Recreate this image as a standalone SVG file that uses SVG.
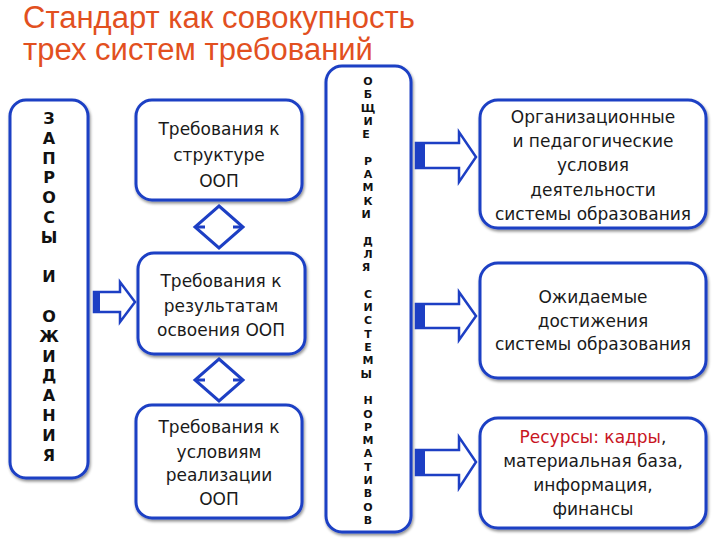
<svg xmlns="http://www.w3.org/2000/svg" width="720" height="540" viewBox="0 0 720 540">
<defs>
<filter id="sh" x="-10%" y="-10%" width="120%" height="120%"><feGaussianBlur in="SourceAlpha" stdDeviation="1.5"/><feOffset dx="1" dy="1.5"/><feComponentTransfer><feFuncA type="linear" slope="0.45"/></feComponentTransfer><feMerge><feMergeNode/><feMergeNode in="SourceGraphic"/></feMerge></filter>
</defs>
<style>
.box{fill:#fff;stroke:#1d3fc4;stroke-width:3;filter:url(#sh)}
.t{font-family:"DejaVu Sans",Verdana,sans-serif;font-size:17px;fill:#1a1a1a;text-anchor:middle}
.v{font-family:"DejaVu Sans",Verdana,sans-serif;font-weight:bold;fill:#111;text-anchor:middle}
.title{font-family:"Liberation Sans",Arial,sans-serif;font-size:31px;fill:#e2501f}
.arr{fill:#fff;stroke:#1d3fc4;stroke-width:2.5;stroke-linejoin:miter}
.arrf{fill:#1d3fc4}
.dia{fill:none;stroke:#1d3fc4;stroke-width:3;stroke-linejoin:miter}
</style>
<rect width="720" height="540" fill="#fff"/>
<text class="title" x="23" y="28">Стандарт как совокупность</text>
<text class="title" x="23" y="60">трех систем требований</text>

<g id="zaprosy">
<rect class="box" x="10" y="100" width="78" height="378" rx="16"/>
<text class="v" font-size="16">
<tspan x="49" y="124">З</tspan><tspan x="49" y="143.8">А</tspan><tspan x="49" y="163.6">П</tspan><tspan x="49" y="183.4">Р</tspan><tspan x="49" y="203.2">О</tspan><tspan x="49" y="223">С</tspan><tspan x="49" y="242.8">Ы</tspan><tspan x="49" y="282.4">И</tspan><tspan x="49" y="322">О</tspan><tspan x="49" y="341.8">Ж</tspan><tspan x="49" y="361.6">И</tspan><tspan x="49" y="381.4">Д</tspan><tspan x="49" y="401.2">А</tspan><tspan x="49" y="421">Н</tspan><tspan x="49" y="440.8">И</tspan><tspan x="49" y="460.6">Я</tspan>
</text>
</g>

<g id="struktura">
<rect class="box" x="136" y="100" width="166" height="100" rx="16"/>
<text class="t"><tspan x="219" y="135">Требования к</tspan><tspan x="219" y="161">структуре</tspan><tspan x="219" y="187">ООП</tspan></text>
</g>
<g id="rezultaty">
<rect class="box" x="138" y="253" width="167" height="101" rx="16"/>
<text class="t"><tspan x="221" y="287">Требования к</tspan><tspan x="221" y="312">результатам</tspan><tspan x="221" y="336">освоения ООП</tspan></text>
</g>
<g id="usloviya">
<rect class="box" x="136" y="405" width="166" height="113" rx="16"/>
<text class="t"><tspan x="219" y="433">Требования к</tspan><tspan x="219" y="458">условиям</tspan><tspan x="219" y="481">реализации</tspan><tspan x="219" y="505">ООП</tspan></text>
</g>

<g id="ramki">
<rect class="box" x="326" y="66" width="85" height="466" rx="16"/>
<text class="v" font-size="11">
<tspan x="368" y="85">О</tspan><tspan x="368" y="98.3">Б</tspan><tspan x="368" y="111.6">Щ</tspan><tspan x="368" y="124.9">И</tspan><tspan x="368" y="138.2">Е</tspan>
<tspan x="368" y="164.8">Р</tspan><tspan x="368" y="178.1">А</tspan><tspan x="368" y="191.4">М</tspan><tspan x="368" y="204.7">К</tspan><tspan x="368" y="218">И</tspan>
<tspan x="368" y="244.6">Д</tspan><tspan x="368" y="257.9">Л</tspan><tspan x="368" y="271.2">Я</tspan>
<tspan x="368" y="297.8">С</tspan><tspan x="368" y="311.1">И</tspan><tspan x="368" y="324.4">С</tspan><tspan x="368" y="337.7">Т</tspan><tspan x="368" y="351">Е</tspan><tspan x="368" y="364.3">М</tspan><tspan x="368" y="377.6">Ы</tspan>
<tspan x="368" y="404.2">Н</tspan><tspan x="368" y="417.5">О</tspan><tspan x="368" y="430.8">Р</tspan><tspan x="368" y="444.1">М</tspan><tspan x="368" y="457.4">А</tspan><tspan x="368" y="470.7">Т</tspan><tspan x="368" y="484">И</tspan><tspan x="368" y="497.3">В</tspan><tspan x="368" y="510.6">О</tspan><tspan x="368" y="523.9">В</tspan>
</text>
</g>

<g id="org">
<rect class="box" x="480" y="100" width="226" height="128" rx="18"/>
<text class="t"><tspan x="593" y="123">Организационные</tspan><tspan x="593" y="147">и педагогические</tspan><tspan x="593" y="171">условия</tspan><tspan x="593" y="196">деятельности</tspan><tspan x="593" y="220">системы образования</tspan></text>
</g>
<g id="ozhid">
<rect class="box" x="480" y="263" width="226" height="115" rx="18"/>
<text class="t"><tspan x="593" y="303">Ожидаемые</tspan><tspan x="593" y="327">достижения</tspan><tspan x="593" y="350">системы образования</tspan></text>
</g>
<g id="resursy">
<rect class="box" x="480" y="418" width="226" height="110" rx="18"/>
<text class="t"><tspan x="593" y="443"><tspan fill="#c8141e">Ресурсы: кадры</tspan>,</tspan><tspan x="593" y="467">материальная база,</tspan><tspan x="593" y="491">информация,</tspan><tspan x="593" y="515">финансы</tspan></text>
</g>

<g id="connectors">
<path class="dia" d="M219 206 L243 227 L219 248 L195 227 Z"/>
<path class="dia" stroke-width="2" d="M196 227 L205 227 M242 227 L233 227"/>
<path class="dia" d="M219 359 L243 380 L219 401 L195 380 Z"/>
<path class="dia" stroke-width="2" d="M196 380 L205 380 M242 380 L233 380"/>

<path class="arr" d="M94 292 L120 292 L120 282 L135 302 L120 322 L120 312 L94 312 Z"/>
<rect class="arrf" x="93" y="292" width="7" height="20"/>

<path class="arr" d="M416 143 L459 143 L459 132 L476 157 L459 182 L459 168 L416 168 Z"/>
<rect class="arrf" x="415" y="143" width="10" height="25"/>
<path class="arr" d="M416 304 L459 304 L459 292 L476 316 L459 340 L459 328 L416 328 Z"/>
<rect class="arrf" x="415" y="304" width="10" height="24"/>
<path class="arr" d="M416 450 L459 450 L459 437 L476 462 L459 488 L459 475 L416 475 Z"/>
<rect class="arrf" x="415" y="450" width="10" height="25"/>
</g>
</svg>
